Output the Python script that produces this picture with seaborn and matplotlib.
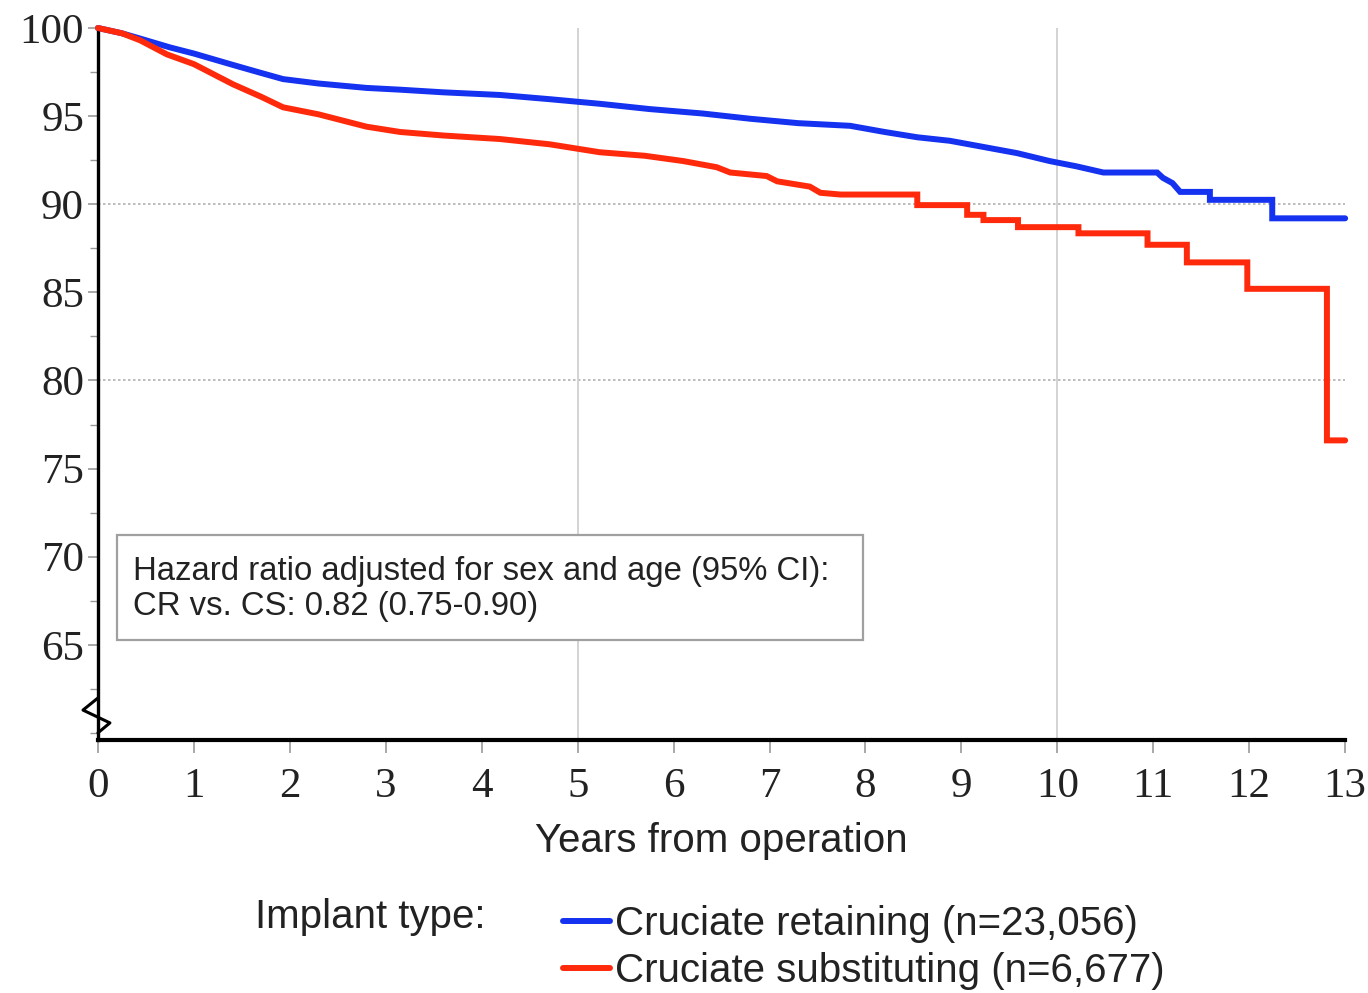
import matplotlib
matplotlib.use("Agg")
import matplotlib.pyplot as plt
from matplotlib.lines import Line2D
from matplotlib.patches import Rectangle
from matplotlib.ticker import MultipleLocator
import seaborn as sns
import pandas as pd

# ---- data ----
cr_years = [0, 0.25, 0.44, 0.75, 1.0, 1.41, 1.7, 1.93, 2.3, 2.8, 3.15, 3.6, 4.19, 4.71,
            5.23, 5.75, 6.3, 6.8, 7.3, 7.84, 8.2, 8.54, 8.88, 9.23, 9.58, 9.92, 10.2,
            10.48, 11.04, 11.1, 11.2, 11.28, 11.59, 11.59, 12.24, 12.24, 13.0]
cr_surv = [100, 99.7, 99.4, 98.9, 98.55, 97.9, 97.45, 97.1, 96.85, 96.6, 96.5, 96.35, 96.2, 95.96,
           95.7, 95.4, 95.15, 94.85, 94.6, 94.45, 94.1, 93.8, 93.6, 93.25, 92.9, 92.45, 92.15,
           91.8, 91.8, 91.5, 91.2, 90.7, 90.7, 90.25, 90.25, 89.2, 89.2]

cs_years = [0, 0.25, 0.44, 0.72, 1.0, 1.41, 1.7, 1.93, 2.3, 2.8, 3.15, 3.6, 4.19, 4.71,
            5.23, 5.7, 6.1, 6.45, 6.59, 6.97, 7.08, 7.42, 7.53, 7.74, 8.54, 8.54, 9.06,
            9.06, 9.23, 9.23, 9.59, 9.59, 10.22, 10.22, 10.94, 10.94, 11.35, 11.35, 11.98,
            11.98, 12.81, 12.81, 13.0]
cs_surv = [100, 99.7, 99.3, 98.5, 97.95, 96.8, 96.1, 95.5, 95.1, 94.4, 94.1, 93.9, 93.7, 93.4,
           92.95, 92.75, 92.45, 92.1, 91.8, 91.6, 91.3, 91.0, 90.65, 90.55, 90.55, 89.95, 89.95,
           89.4, 89.4, 89.1, 89.1, 88.7, 88.7, 88.35, 88.35, 87.7, 87.7, 86.7, 86.7,
           85.2, 85.2, 76.6, 76.6]

series_labels = ["Cruciate retaining (n=23,056)", "Cruciate substituting (n=6,677)"]
series_colors = ["#1432f0", "#ff2a0c"]
x_ticks = list(range(0, 14))
y_ticks = [65, 70, 75, 80, 85, 90, 95, 100]
hr_text = "Hazard ratio adjusted for sex and age (95% CI):\nCR vs. CS: 0.82 (0.75-0.90)"

df = pd.concat([
    pd.DataFrame({"years": cr_years, "survival": cr_surv, "implant": series_labels[0]}),
    pd.DataFrame({"years": cs_years, "survival": cs_surv, "implant": series_labels[1]}),
], ignore_index=True)

sns.set_theme(style="white")
plt.rcParams["font.family"] = ["Liberation Sans", "DejaVu Sans"]

fig = plt.figure(figsize=(13.68, 9.93), dpi=100)
ax = fig.add_axes([0.0716, 0.2548, 0.9117, 0.7170])

# grid lines
for yv in (80, 90):
    ax.axhline(yv, color="#b0b0b0", lw=1.2, ls=(0, (1.5, 1.5)), zorder=0)
for xv in (5, 10):
    ax.axvline(xv, color="#d0d0d0", lw=1.3, zorder=0)

sns.lineplot(data=df, x="years", y="survival", hue="implant",
             palette=dict(zip(series_labels, series_colors)),
             estimator=None, sort=False, lw=4.3, legend=False, ax=ax,
             solid_joinstyle="miter", clip_on=False, zorder=3)

ax.set_xlim(0, 13)
ax.set_ylim(59.6, 100)
ax.set_xticks(x_ticks)
ax.set_xticklabels([str(v) for v in x_ticks], family="Liberation Serif", fontsize=31)
ax.set_yticks(y_ticks)
ax.set_yticklabels([str(v) for v in y_ticks], family="Liberation Serif", fontsize=31)
ax.yaxis.set_minor_locator(MultipleLocator(2.5))
ax.tick_params(axis="x", which="major", length=9, width=1.2, color="#999999",
               direction="out", pad=11, bottom=True, labelcolor="#222222")
ax.tick_params(axis="y", which="major", length=7, width=1.2, color="#999999",
               direction="out", pad=3, left=True, labelcolor="#222222")
ax.tick_params(axis="y", which="minor", length=6, width=1.0, color="#999999",
               direction="out", left=True)

for s in ("top", "right"):
    ax.spines[s].set_visible(False)
ax.spines["left"].set_linewidth(2.4)
ax.spines["left"].set_color("black")
ax.spines["bottom"].set_linewidth(3.0)
ax.spines["bottom"].set_color("black")

ax.set_xlabel("Years from operation", fontsize=29, color="#222222", labelpad=11)
ax.set_ylabel("")

# axis break mark
ax.plot([0, -0.012, 0.0096, 0.0], [0.059, 0.042, 0.024, 0.010],
        transform=ax.transAxes, color="black", lw=2.2, clip_on=False, zorder=5)

# hazard ratio box
ax.add_patch(Rectangle((0.0152, 0.1404), 0.598, 0.1475, transform=ax.transAxes,
                       facecolor="white", edgecolor="#a0a0a0", lw=1.6, zorder=4))
ax.text(0.0281, 0.2125, hr_text, transform=ax.transAxes, fontsize=23.7,
        va="center", ha="left", color="#222222", linespacing=1.16, zorder=5)

# legend
handles = [Line2D([], [], color=c, lw=4.3) for c in series_colors]
fig.legend(handles, series_labels, loc="upper left", bbox_to_anchor=(0.4115, 0.0886),
           frameon=False, fontsize=29, handlelength=1.17, handletextpad=0.12,
           labelspacing=0.22, borderaxespad=0, borderpad=0, labelcolor="#222222")
fig.text(0.1864, 0.0765, "Implant type:", fontsize=29, va="center", ha="left",
         color="#222222")

fig.savefig("out.png", dpi=100)
